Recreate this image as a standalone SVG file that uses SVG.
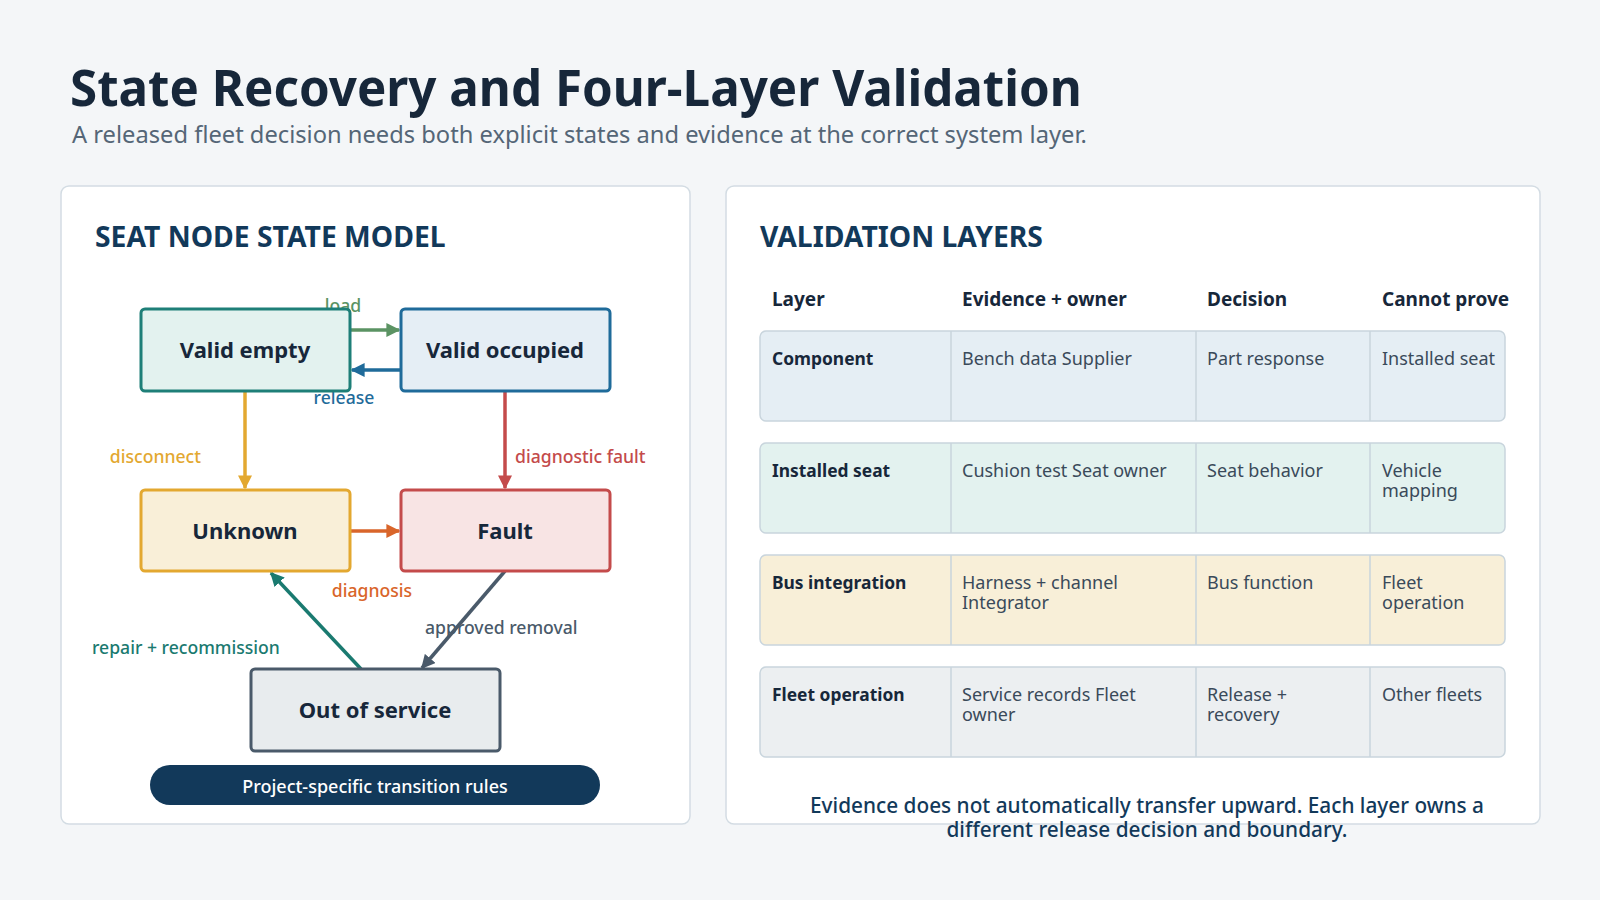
<svg xmlns="http://www.w3.org/2000/svg" width="1600" height="900" viewBox="0 0 1600 900">
<defs>
<style>
.t{font-family:"Noto Sans","Open Sans","Liberation Sans",sans-serif}
.title{font-size:49.3px;font-weight:700;fill:#17273a}
.sub{font-size:23.7px;fill:#556677}
.panel{fill:#ffffff;stroke:#d3dce3;stroke-width:1.5}
.h2{font-size:28.3px;font-weight:700;fill:#12395a}
.node{stroke-width:3}
.nl{font-size:22px;font-weight:700;fill:#17273a;text-anchor:middle}
.el{font-size:17.6px;font-weight:500}
.edge{fill:none;stroke-width:3.5}
.th{font-size:19px;font-weight:700;fill:#17273a}
.row{stroke:#c9d5dd;stroke-width:1.5}
.sep{stroke:#c9d5dd;stroke-width:1.5}
.c1{font-size:17.4px;font-weight:700;fill:#17273a}
.cx{font-size:18px;fill:#3a4a5a}
.foot{font-size:20.8px;font-weight:500;fill:#12395a;text-anchor:middle}
</style>
<marker id="mGreen" viewBox="0 0 10 10" refX="9" refY="5" markerWidth="4" markerHeight="4" orient="auto"><path d="M0,0L10,5L0,10z" fill="#5b9363"/></marker>
<marker id="mBlue" viewBox="0 0 10 10" refX="9" refY="5" markerWidth="4" markerHeight="4" orient="auto"><path d="M0,0L10,5L0,10z" fill="#1f6b9a"/></marker>
<marker id="mYel" viewBox="0 0 10 10" refX="9" refY="5" markerWidth="4" markerHeight="4" orient="auto"><path d="M0,0L10,5L0,10z" fill="#e3a830"/></marker>
<marker id="mRed" viewBox="0 0 10 10" refX="9" refY="5" markerWidth="4" markerHeight="4" orient="auto"><path d="M0,0L10,5L0,10z" fill="#c44b4b"/></marker>
<marker id="mOr" viewBox="0 0 10 10" refX="9" refY="5" markerWidth="4" markerHeight="4" orient="auto"><path d="M0,0L10,5L0,10z" fill="#d9652a"/></marker>
<marker id="mGray" viewBox="0 0 10 10" refX="9" refY="5" markerWidth="4" markerHeight="4" orient="auto"><path d="M0,0L10,5L0,10z" fill="#4a5a6a"/></marker>
<marker id="mTeal" viewBox="0 0 10 10" refX="9" refY="5" markerWidth="4" markerHeight="4" orient="auto"><path d="M0,0L10,5L0,10z" fill="#1a7a70"/></marker>
</defs>
<rect width="1600" height="900" fill="#f4f6f8"/>
<text class="t title" x="70" y="106">State Recovery and Four-Layer Validation</text>
<text class="t sub" x="72" y="143">A released fleet decision needs both explicit states and evidence at the correct system layer.</text>

<rect class="panel" x="61" y="186" width="629" height="638" rx="8"/>
<rect class="panel" x="726" y="186" width="814" height="638" rx="8"/>
<text class="t h2" x="95" y="247">SEAT NODE STATE MODEL</text>
<text class="t h2" x="760" y="247">VALIDATION LAYERS</text>

<g id="connectors">
<line class="edge" x1="350" y1="330" x2="399" y2="330" stroke="#5b9363" marker-end="url(#mGreen)"/>
<line class="edge" x1="401" y1="370" x2="352" y2="370" stroke="#1f6b9a" marker-end="url(#mBlue)"/>
<line class="edge" x1="245" y1="391" x2="245" y2="488" stroke="#e3a830" marker-end="url(#mYel)"/>
<line class="edge" x1="505" y1="391" x2="505" y2="488" stroke="#c44b4b" marker-end="url(#mRed)"/>
<line class="edge" x1="350" y1="531" x2="399" y2="531" stroke="#d9652a" marker-end="url(#mOr)"/>
<line class="edge" x1="505" y1="571" x2="422" y2="668" stroke="#4a5a6a" marker-end="url(#mGray)"/>
<line class="edge" x1="361" y1="669" x2="271" y2="573" stroke="#1a7a70" marker-end="url(#mTeal)"/>
<text class="t el" x="343" y="312" text-anchor="middle" fill="#5b9363">load</text>
<text class="t el" x="344" y="404" text-anchor="middle" fill="#1f6b9a">release</text>
<text class="t el" x="201" y="463" text-anchor="end" fill="#e3a830">disconnect</text>
<text class="t el" x="515" y="463" fill="#c44b4b">diagnostic fault</text>
<text class="t el" x="372" y="597" text-anchor="middle" fill="#d9652a">diagnosis</text>
<text class="t el" x="425" y="634" fill="#4a5a6a">approved removal</text>
<text class="t el" x="92" y="654" fill="#1a7a70">repair + recommission</text>
</g>

<g id="n-valid-empty">
<rect class="node" x="141" y="309" width="209" height="82" rx="4" fill="#e3f2ef" stroke="#1e7f78"/>
<text class="t nl" x="245" y="358">Valid empty</text>
</g>
<g id="n-valid-occupied">
<rect class="node" x="401" y="309" width="209" height="82" rx="4" fill="#e5eef5" stroke="#1f6b9a"/>
<text class="t nl" x="505" y="358">Valid occupied</text>
</g>
<g id="n-unknown">
<rect class="node" x="141" y="490" width="209" height="81" rx="4" fill="#f9efd8" stroke="#e3a830"/>
<text class="t nl" x="245" y="539">Unknown</text>
</g>
<g id="n-fault">
<rect class="node" x="401" y="490" width="209" height="81" rx="4" fill="#f8e4e4" stroke="#c44b4b"/>
<text class="t nl" x="505" y="539">Fault</text>
</g>
<g id="n-out-of-service">
<rect class="node" x="251" y="669" width="249" height="82" rx="4" fill="#e8ecee" stroke="#4a5a6a"/>
<text class="t nl" x="375" y="718">Out of service</text>
</g>
<g id="n-rules">
<rect x="150" y="765" width="450" height="40" rx="20" fill="#12395a"/>
<text class="t" x="375" y="793" text-anchor="middle" font-size="18" font-weight="500" fill="#ffffff">Project-specific transition rules</text>
</g>

<g id="table">
<text class="t th" x="772" y="306">Layer</text>
<text class="t th" x="962" y="306">Evidence + owner</text>
<text class="t th" x="1207" y="306">Decision</text>
<text class="t th" x="1382" y="306">Cannot prove</text>

<g id="row-component">
<rect class="row" x="760" y="331" width="745" height="90" rx="6" fill="#e5eef4"/>
<line class="sep" x1="951" y1="331" x2="951" y2="421"/><line class="sep" x1="1196" y1="331" x2="1196" y2="421"/><line class="sep" x1="1370" y1="331" x2="1370" y2="421"/>
<text class="t c1" x="772" y="365">Component</text>
<text class="t cx" x="962" y="365">Bench data Supplier</text>
<text class="t cx" x="1207" y="365">Part response</text>
<text class="t cx" x="1382" y="365">Installed seat</text>
</g>
<g id="row-installed">
<rect class="row" x="760" y="443" width="745" height="90" rx="6" fill="#e3f2ef"/>
<line class="sep" x1="951" y1="443" x2="951" y2="533"/><line class="sep" x1="1196" y1="443" x2="1196" y2="533"/><line class="sep" x1="1370" y1="443" x2="1370" y2="533"/>
<text class="t c1" x="772" y="477">Installed seat</text>
<text class="t cx" x="962" y="477">Cushion test Seat owner</text>
<text class="t cx" x="1207" y="477">Seat behavior</text>
<text class="t cx" x="1382" y="477">Vehicle<tspan x="1382" dy="19.5">mapping</tspan></text>
</g>
<g id="row-bus">
<rect class="row" x="760" y="555" width="745" height="90" rx="6" fill="#f8efd8"/>
<line class="sep" x1="951" y1="555" x2="951" y2="645"/><line class="sep" x1="1196" y1="555" x2="1196" y2="645"/><line class="sep" x1="1370" y1="555" x2="1370" y2="645"/>
<text class="t c1" x="772" y="589">Bus integration</text>
<text class="t cx" x="962" y="589">Harness + channel<tspan x="962" dy="19.5">Integrator</tspan></text>
<text class="t cx" x="1207" y="589">Bus function</text>
<text class="t cx" x="1382" y="589">Fleet<tspan x="1382" dy="19.5">operation</tspan></text>
</g>
<g id="row-fleet">
<rect class="row" x="760" y="667" width="745" height="90" rx="6" fill="#eceff1"/>
<line class="sep" x1="951" y1="667" x2="951" y2="757"/><line class="sep" x1="1196" y1="667" x2="1196" y2="757"/><line class="sep" x1="1370" y1="667" x2="1370" y2="757"/>
<text class="t c1" x="772" y="701">Fleet operation</text>
<text class="t cx" x="962" y="701">Service records Fleet<tspan x="962" dy="19.5">owner</tspan></text>
<text class="t cx" x="1207" y="701">Release +<tspan x="1207" dy="19.5">recovery</tspan></text>
<text class="t cx" x="1382" y="701">Other fleets</text>
</g>
</g>
<text class="t foot" x="1147" y="813">Evidence does not automatically transfer upward. Each layer owns a<tspan x="1147" dy="24">different release decision and boundary.</tspan></text>
</svg>
